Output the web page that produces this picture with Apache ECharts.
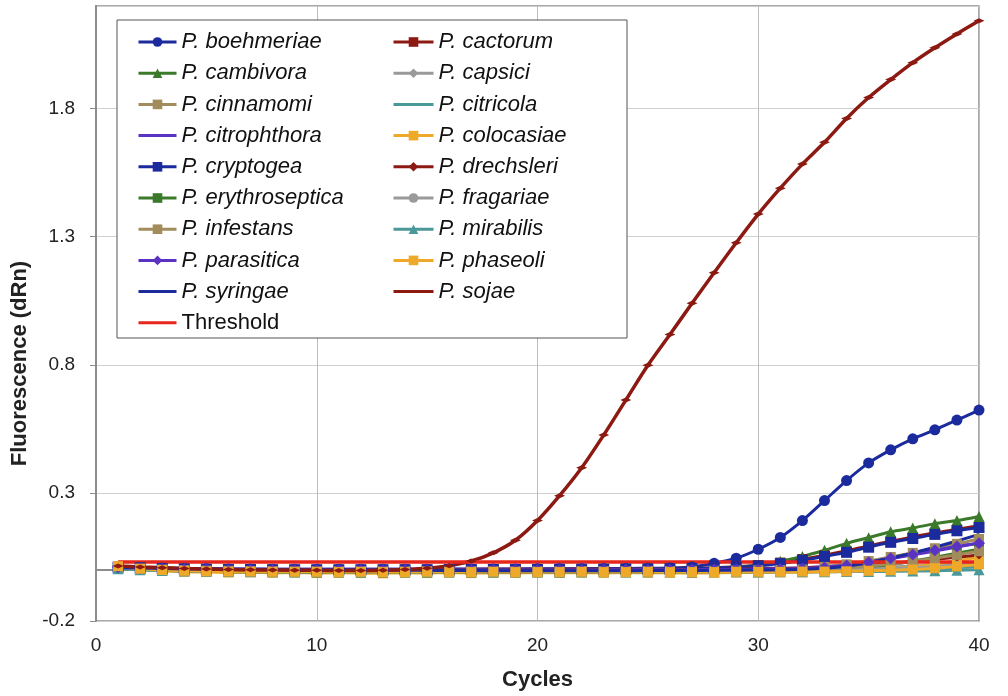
<!DOCTYPE html>
<html>
<head>
<meta charset="utf-8">
<script src="https://cdn.jsdelivr.net/npm/echarts@6/dist/echarts.min.js"></script>
<style>
  html, body { margin: 0; padding: 0; background: #fff; }
  #chart { width: 1008px; height: 696px; }
</style>
</head>
<body>
<div id="chart"></div>
<script>
// qPCR amplification curves, cycles 1..40
const cycles = [1,2,3,4,5,6,7,8,9,10,11,12,13,14,15,16,17,18,19,20,21,22,23,24,25,26,27,28,29,30,31,32,33,34,35,36,37,38,39,40];

const boehmeriae = [0.012,0.009,0.007,0.005,0.004,0.003,0.003,0.002,0.002,0.002,0.002,0.002,0.002,0.002,0.002,0.003,0.003,0.003,0.003,0.004,0.004,0.004,0.005,0.005,0.006,0.007,0.011,0.025,0.045,0.080,0.126,0.192,0.270,0.348,0.417,0.468,0.511,0.546,0.584,0.623];
const cactorum = [0.012,0.009,0.006,0.004,0.003,0.002,0.001,0.001,0.000,0.000,0.000,0.000,0.000,0.001,0.001,0.001,0.001,0.002,0.002,0.002,0.002,0.003,0.003,0.003,0.004,0.005,0.006,0.008,0.012,0.018,0.028,0.042,0.057,0.074,0.093,0.111,0.128,0.144,0.158,0.172];
const cambivora = [0.008,0.005,0.003,0.001,0.000,-0.001,-0.001,-0.002,-0.002,-0.002,-0.002,-0.002,-0.002,-0.002,-0.001,-0.001,-0.001,-0.001,0.000,0.000,0.000,0.000,0.001,0.001,0.002,0.003,0.004,0.006,0.010,0.018,0.033,0.052,0.076,0.103,0.125,0.148,0.163,0.180,0.192,0.208];
const capsici = [0.007,0.003,0.000,-0.002,-0.003,-0.004,-0.004,-0.005,-0.005,-0.005,-0.005,-0.005,-0.005,-0.005,-0.005,-0.005,-0.005,-0.005,-0.005,-0.005,-0.005,-0.005,-0.004,-0.004,-0.004,-0.004,-0.004,-0.004,-0.003,-0.003,-0.002,-0.001,0.001,0.003,0.006,0.010,0.015,0.020,0.025,0.031];
const cinnamomi = [0.010,0.007,0.004,0.002,0.001,0.000,-0.001,-0.001,-0.002,-0.002,-0.002,-0.002,-0.002,-0.002,-0.002,-0.002,-0.002,-0.001,-0.001,-0.001,-0.001,-0.001,-0.001,0.000,0.000,0.000,0.001,0.001,0.002,0.003,0.005,0.008,0.013,0.021,0.034,0.050,0.066,0.084,0.101,0.120];
const citricola = [0.006,0.003,0.001,-0.001,-0.002,-0.003,-0.003,-0.003,-0.003,-0.003,-0.003,-0.003,-0.003,-0.003,-0.003,-0.003,-0.003,-0.003,-0.003,-0.003,-0.003,-0.003,-0.003,-0.003,-0.003,-0.003,-0.003,-0.003,-0.003,-0.002,-0.002,-0.002,-0.001,0.000,0.001,0.003,0.005,0.007,0.009,0.012];
const citrophthora = [0.011,0.008,0.006,0.004,0.003,0.003,0.002,0.002,0.002,0.002,0.002,0.002,0.002,0.002,0.002,0.002,0.002,0.002,0.002,0.002,0.002,0.002,0.002,0.002,0.002,0.002,0.003,0.003,0.004,0.005,0.006,0.008,0.012,0.018,0.029,0.043,0.058,0.073,0.089,0.104];
const colocasiae = [0.012,0.001,-0.004,-0.008,-0.009,-0.011,-0.010,-0.012,-0.011,-0.013,-0.012,-0.013,-0.014,-0.012,-0.013,-0.011,-0.013,-0.012,-0.012,-0.011,-0.012,-0.011,-0.012,-0.011,-0.012,-0.012,-0.013,-0.012,-0.011,-0.011,-0.010,-0.010,-0.008,-0.006,-0.002,0.004,0.012,0.022,0.035,0.049];
const cryptogea = [0.010,0.007,0.005,0.003,0.002,0.001,0.001,0.000,0.000,0.000,0.000,0.000,0.000,0.000,0.000,0.001,0.001,0.001,0.001,0.001,0.002,0.002,0.002,0.003,0.003,0.004,0.005,0.007,0.010,0.015,0.024,0.037,0.052,0.068,0.088,0.107,0.122,0.138,0.152,0.165];
const drechsleri = [0.009,0.006,0.003,0.001,0.000,-0.001,-0.001,-0.001,-0.001,-0.001,-0.001,-0.001,-0.001,-0.001,-0.001,-0.001,-0.001,-0.001,-0.001,-0.001,0.000,0.000,0.000,0.000,0.000,0.000,0.001,0.001,0.002,0.003,0.004,0.006,0.009,0.013,0.018,0.025,0.032,0.040,0.049,0.058];
const erythroseptica = [0.006,0.002,-0.001,-0.004,-0.006,-0.007,-0.008,-0.009,-0.009,-0.010,-0.010,-0.010,-0.010,-0.010,-0.010,-0.010,-0.010,-0.010,-0.010,-0.010,-0.010,-0.010,-0.009,-0.009,-0.009,-0.009,-0.008,-0.008,-0.007,-0.006,-0.005,-0.003,-0.001,0.003,0.010,0.020,0.034,0.049,0.064,0.080];
const fragariae = [0.005,0.001,-0.002,-0.004,-0.005,-0.006,-0.006,-0.007,-0.007,-0.007,-0.007,-0.007,-0.007,-0.007,-0.007,-0.007,-0.007,-0.007,-0.007,-0.007,-0.007,-0.006,-0.006,-0.006,-0.006,-0.006,-0.006,-0.005,-0.005,-0.005,-0.004,-0.003,-0.002,0.000,0.002,0.005,0.008,0.012,0.016,0.020];
const infestans = [0.008,0.004,0.001,-0.001,-0.003,-0.004,-0.005,-0.005,-0.006,-0.006,-0.006,-0.006,-0.006,-0.006,-0.006,-0.006,-0.006,-0.006,-0.006,-0.006,-0.006,-0.005,-0.005,-0.005,-0.005,-0.005,-0.004,-0.004,-0.003,-0.002,-0.001,0.001,0.004,0.008,0.014,0.022,0.032,0.045,0.058,0.072];
const mirabilis = [0.004,0.000,-0.003,-0.005,-0.006,-0.007,-0.008,-0.008,-0.009,-0.008,-0.008,-0.009,-0.008,-0.008,-0.009,-0.008,-0.008,-0.009,-0.008,-0.008,-0.009,-0.008,-0.008,-0.009,-0.008,-0.008,-0.009,-0.008,-0.008,-0.009,-0.008,-0.008,-0.008,-0.007,-0.007,-0.006,-0.005,-0.004,-0.002,0.000];
const parasitica = [0.009,0.006,0.004,0.002,0.001,0.000,0.000,-0.001,-0.001,-0.001,-0.001,-0.001,-0.001,-0.001,-0.001,-0.001,-0.001,-0.001,-0.001,-0.001,-0.001,-0.001,0.000,0.000,0.000,0.000,0.000,0.001,0.001,0.002,0.003,0.005,0.009,0.017,0.029,0.045,0.060,0.076,0.091,0.103];
const phaseoli = [0.014,0.004,-0.001,-0.004,-0.006,-0.007,-0.007,-0.008,-0.008,-0.008,-0.009,-0.008,-0.009,-0.009,-0.008,-0.009,-0.009,-0.008,-0.009,-0.009,-0.009,-0.008,-0.009,-0.009,-0.008,-0.009,-0.009,-0.009,-0.008,-0.008,-0.008,-0.007,-0.007,-0.006,-0.004,-0.002,0.001,0.006,0.013,0.021];
const syringae = [0.010,0.007,0.005,0.003,0.002,0.001,0.000,0.000,-0.001,-0.001,-0.001,-0.001,-0.002,-0.002,-0.002,-0.003,-0.003,-0.004,-0.004,-0.004,-0.004,-0.004,-0.004,-0.004,-0.003,-0.003,-0.003,-0.002,-0.002,-0.001,0.000,0.002,0.006,0.014,0.028,0.046,0.066,0.088,0.112,0.138];
const sojae = [0.015,0.011,0.008,0.005,0.003,0.001,0.000,-0.001,-0.002,-0.002,-0.003,-0.003,-0.002,0.001,0.006,0.016,0.034,0.066,0.115,0.192,0.289,0.398,0.526,0.662,0.798,0.918,1.040,1.159,1.276,1.388,1.489,1.583,1.668,1.761,1.843,1.913,1.979,2.037,2.091,2.142];
const threshold = [0.03,0.03,0.03,0.03,0.03,0.03,0.03,0.03,0.03,0.03,0.03,0.03,0.03,0.03,0.03,0.03,0.03,0.03,0.03,0.03,0.03,0.03,0.03,0.03,0.03,0.03,0.03,0.03,0.03,0.03,0.03,0.03,0.03,0.03,0.03,0.03,0.03,0.03,0.03,0.03];

const leftNames = ['P. boehmeriae','P. cambivora','P. cinnamomi','P. citrophthora','P. cryptogea','P. erythroseptica','P. infestans','P. parasitica','P. syringae','Threshold'];
const rightNames = ['P. cactorum','P. capsici','P. citricola','P. colocasiae','P. drechsleri','P. fragariae','P. mirabilis','P. phaseoli','P. sojae'];
// legend entries drawn as a plain line
const plainLegend = ['P. citricola','P. citrophthora','P. syringae','P. sojae','Threshold'];

// name, values, colour, marker, marker size (draw order = legend order)
const lines = [
  ['P. boehmeriae', boehmeriae, '#1b2b9e', 'circle', 11],
  ['P. cactorum', cactorum, '#8c1a12', 'rect', 10],
  ['P. cambivora', cambivora, '#3b7a2a', 'triangle', 11],
  ['P. capsici', capsici, '#9a9a9a', 'diamond', 10],
  ['P. cinnamomi', cinnamomi, '#a38c5c', 'rect', 10],
  ['P. citricola', citricola, '#4b9898', 'none', 0],
  ['P. citrophthora', citrophthora, '#5b33c2', 'none', 0],
  ['P. colocasiae', colocasiae, '#efa928', 'rect', 10],
  ['P. cryptogea', cryptogea, '#1b2b9e', 'rect', 11],
  ['P. drechsleri', drechsleri, '#8c1a12', 'diamond', 9],
  ['P. erythroseptica', erythroseptica, '#3b7a2a', 'rect', 10],
  ['P. fragariae', fragariae, '#9a9a9a', 'circle', 10],
  ['P. infestans', infestans, '#a38c5c', 'rect', 10],
  ['P. mirabilis', mirabilis, '#4b9898', 'triangle', 11],
  ['P. parasitica', parasitica, '#5b33c2', 'diamond', 12],
  ['P. phaseoli', phaseoli, '#efa928', 'rect', 10],
  ['P. syringae', syringae, '#1b2b9e', 'none', 0],
  ['P. sojae', sojae, '#8c1a12', 'diamond', [11, 5]],
  ['Threshold', threshold, '#e8271c', 'none', 0]
];

const font = 'Liberation Sans, Arial, sans-serif';

const series = lines.map(function (l) {
  return {
    name: l[0],
    type: 'line',
    data: cycles.map(function (c, i) { return [c, l[1][i]]; }),
    smooth: 0.3,
    symbol: l[3],
    symbolSize: l[4],
    showSymbol: l[3] !== 'none',
    lineStyle: { color: l[2], width: l[0] === 'Threshold' || l[0] === 'P. sojae' ? 3.5 : 3 },
    itemStyle: { color: l[2] },
    emphasis: { disabled: true }
  };
});

function legendData(names) {
  return names.map(function (n) {
    if (plainLegend.indexOf(n) >= 0) return { name: n, itemStyle: { opacity: 0 } };
    return { name: n };
  });
}

const legendText = {
  fontSize: 22, lineHeight: 22,
  rich: {
    i: { fontStyle: 'italic', fontSize: 22, fontFamily: font, color: '#111', lineHeight: 22 },
    n: { fontSize: 22, fontFamily: font, color: '#111', lineHeight: 22 }
  }
};
function fmt(name) {
  return name === 'Threshold' ? '{n|' + name + '}' : '{i|' + name + '}';
}

const myChart = echarts.init(document.getElementById('chart'));
myChart.setOption({
  animation: false,
  backgroundColor: '#fff',
  grid: {
    left: 96, right: 29, top: 6, bottom: 73,
    show: true, borderColor: '#8c8c8c', borderWidth: 1.5, backgroundColor: 'transparent'
  },
  graphic: [{
    type: 'rect', z: 3,
    shape: { x: 117, y: 20, width: 510, height: 318 },
    style: { fill: '#fff', stroke: '#555', lineWidth: 1 }
  }],
  legend: [{
    z: 10,
    orient: 'vertical', left: 132, top: 26,
    itemWidth: 38, itemHeight: 12, itemGap: 9.2,
    lineStyle: { width: 3 },
    data: legendData(leftNames),
    formatter: fmt, textStyle: legendText,
    selectedMode: false
  }, {
    z: 10,
    orient: 'vertical', left: 387, top: 26,
    itemWidth: 40, itemHeight: 12, itemGap: 9.2,
    lineStyle: { width: 3 },
    data: legendData(rightNames),
    formatter: fmt, textStyle: legendText,
    selectedMode: false
  }],
  xAxis: {
    type: 'value', min: 0, max: 40, interval: 10,
    name: 'Cycles', nameLocation: 'middle', nameGap: 48,
    nameTextStyle: { fontSize: 22, fontWeight: 'bold', fontFamily: font, color: '#222' },
    axisLine: { show: true, lineStyle: { color: '#8c8c8c', width: 2 } },
    axisTick: { show: true, length: 6, lineStyle: { color: '#8c8c8c' } },
    axisLabel: { fontSize: 19, fontFamily: font, color: '#222', margin: 15 },
    splitLine: { show: true, lineStyle: { color: '#bdbdbd', width: 1 } }
  },
  yAxis: {
    type: 'value', min: -0.2, max: 2.2, interval: 0.5,
    name: 'Fluorescence (dRn)', nameLocation: 'middle', nameGap: 61,
    nameTextStyle: { fontSize: 22, fontWeight: 'bold', fontFamily: font, color: '#222', padding: [0, 100, 0, 0] },
    axisLine: { show: true, lineStyle: { color: '#8c8c8c', width: 2 } },
    axisTick: { show: true, length: 6, lineStyle: { color: '#8c8c8c' } },
    axisLabel: {
      fontSize: 19, fontFamily: font, color: '#222', margin: 21,
      padding: [8, 0, 0, 0],
      showMaxLabel: false,
      formatter: function (v) { return v.toFixed(1); }
    },
    splitLine: { show: true, lineStyle: { color: '#d0d0d0', width: 1 } }
  },
  series: series
});
</script>
</body>
</html>
